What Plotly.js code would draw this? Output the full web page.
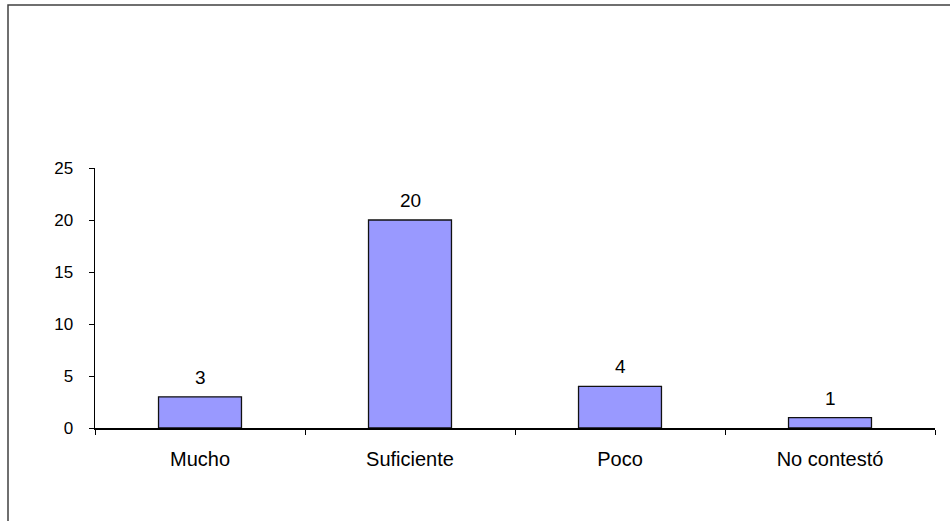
<!DOCTYPE html>
<html>
<head>
<meta charset="utf-8">
<script src="https://cdn.plot.ly/plotly-3.0.1.min.js"></script>
<style>html,body{margin:0;padding:0;background:#fff;}#chart{width:950px;height:521px;}</style>
</head>
<body>
<div id="chart"></div>
<script>
const categories = ["Mucho", "Suficiente", "Poco", "No contestó"];
const values = [3, 20, 4, 1];
const yTicks = [0, 5, 10, 15, 20, 25];

const FONT = "Liberation Sans, Arial, sans-serif";

const trace = {
  type: "bar",
  x: categories,
  y: values,
  marker: {color: "#9999FF", line: {color: "#111", width: 1.3}},
  hoverinfo: "none"
};

const L = 95, R = 15, T = 168, B = 93, W = 950, H = 521;
const pw = W - L - R, ph = H - T - B;

const annotations = categories.map((c, i) => ({
  x: c, y: values[i], xref: "x", yref: "y",
  text: String(values[i]), showarrow: false,
  yanchor: "bottom", yshift: 7,
  font: {family: FONT, size: 19, color: "#000"}
}));

const layout = {
  width: W, height: H,
  margin: {l: L, r: R, t: T, b: B, pad: 0},
  paper_bgcolor: "#fff",
  plot_bgcolor: "#fff",
  showlegend: false,
  bargap: 0.605,
  font: {family: FONT, size: 17, color: "#000"},
  xaxis: {
    type: "category",
    showline: true, linecolor: "#000", linewidth: 1.5,
    ticks: "outside", tickson: "boundaries", ticklen: 5, tickcolor: "#000", tickwidth: 1,
    ticklabelstandoff: 12,
    showgrid: false, zeroline: false,
    tickfont: {family: FONT, size: 20}
  },
  yaxis: {
    range: [0, 25],
    tickvals: yTicks,
    ticktext: yTicks.map(String),
    showline: true, linecolor: "#000", linewidth: 1.5,
    ticks: "outside", ticklen: 5, tickcolor: "#000", tickwidth: 1,
    ticklabelstandoff: 12,
    showgrid: false, zeroline: false,
    tickfont: {family: FONT, size: 17}
  },
  annotations: annotations,
  shapes: [{
    type: "rect", xref: "paper", yref: "paper",
    x0: (8 - L) / pw, x1: (W + 20 - L) / pw,
    y0: -(H + 20 - (T + ph)) / ph, y1: 1 + (T - 5) / ph,
    line: {color: "#404040", width: 1.5},
    fillcolor: "rgba(0,0,0,0)", layer: "below"
  }]
};

Plotly.newPlot("chart", [trace], layout, {staticPlot: true});
</script>
</body>
</html>
